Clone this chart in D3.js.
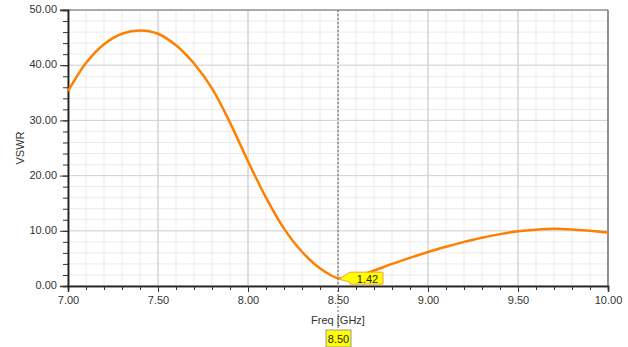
<!DOCTYPE html>
<html>
<head>
<meta charset="utf-8">
<script src="https://cdn.jsdelivr.net/npm/d3@7"></script>
<style>
  body { margin: 0; background: #fff; }
  text { font-family: "Liberation Sans", Arial, sans-serif; }
</style>
</head>
<body>
<div id="vis"></div>
<script>
// Frequency samples (GHz) and VSWR
var freq = [7.0, 7.1, 7.2, 7.3, 7.4, 7.5, 7.6, 7.7, 7.8, 7.9,
            8.0, 8.1, 8.2, 8.3, 8.4, 8.5, 8.6, 8.7, 8.8, 8.9,
            9.0, 9.1, 9.2, 9.3, 9.4, 9.5, 9.6, 9.7, 9.8, 9.9, 10.0];
var vswr = [35.3, 40.4, 43.8, 45.7, 46.3, 45.7, 43.6, 40.3, 35.8, 29.6,
            22.6, 16.0, 10.4, 6.2, 3.2, 1.42, 1.75, 2.8, 4.0, 5.1,
            6.15, 7.1, 8.0, 8.75, 9.4, 9.9, 10.2, 10.35, 10.25, 10.0, 9.7];
var xTicks = [7.0, 7.5, 8.0, 8.5, 9.0, 9.5, 10.0];
var yTicks = [0, 10, 20, 30, 40, 50];
var markerFreq = 8.5;
var markerValue = 1.42;

var width = 628, height = 347;
var margin = { top: 10, right: 20, bottom: 61, left: 68 };

var svg = d3.select('#vis').append('svg')
  .attr('width', width)
  .attr('height', height);

var x = d3.scaleLinear().domain([7, 10]).range([margin.left, width - margin.right]);
var y = d3.scaleLinear().domain([0, 50]).range([height - margin.bottom, margin.top]);

var x0 = x.range()[0], x1 = x.range()[1];
var y0 = y.range()[0], y1 = y.range()[1];

// minor grid
var minorX = d3.range(70, 101).map(function (d) { return d / 10; });
var minorY = d3.range(0, 51, 2);
svg.append('g').selectAll('line').data(minorX).join('line')
  .attr('x1', function (d) { return x(d); }).attr('x2', function (d) { return x(d); })
  .attr('y1', y1).attr('y2', y0)
  .attr('stroke', '#ebebeb').attr('stroke-width', 1);
svg.append('g').selectAll('line').data(minorY).join('line')
  .attr('y1', function (d) { return y(d); }).attr('y2', function (d) { return y(d); })
  .attr('x1', x0).attr('x2', x1)
  .attr('stroke', '#ebebeb').attr('stroke-width', 1);

// major grid
svg.append('g').selectAll('line').data(xTicks).join('line')
  .attr('x1', function (d) { return x(d); }).attr('x2', function (d) { return x(d); })
  .attr('y1', y1).attr('y2', y0)
  .attr('stroke', '#c8c8c8').attr('stroke-width', 1);
svg.append('g').selectAll('line').data(yTicks).join('line')
  .attr('y1', function (d) { return y(d); }).attr('y2', function (d) { return y(d); })
  .attr('x1', x0).attr('x2', x1)
  .attr('stroke', '#d4d4d4').attr('stroke-width', 1);

// top and right border
svg.append('line').attr('x1', x0 - 8).attr('x2', x1).attr('y1', y1).attr('y2', y1)
  .attr('stroke', '#999').attr('stroke-width', 1.5);
svg.append('line').attr('x1', x1).attr('x2', x1).attr('y1', y1).attr('y2', y0)
  .attr('stroke', '#777').attr('stroke-width', 1.5);

// axes
var xAxis = svg.append('g').attr('transform', 'translate(0,' + y0 + ')')
  .call(d3.axisBottom(x).tickValues(xTicks).tickFormat(d3.format('.2f')).tickSize(6).tickPadding(4));
var xMinor = svg.append('g').attr('transform', 'translate(0,' + y0 + ')')
  .call(d3.axisBottom(x).tickValues(minorX).tickFormat('').tickSize(4));
var yAxis = svg.append('g').attr('transform', 'translate(' + x0 + ',0)')
  .call(d3.axisLeft(y).tickValues(yTicks).tickFormat(d3.format('.2f')).tickSize(8).tickPadding(3));
var yMinor = svg.append('g').attr('transform', 'translate(' + x0 + ',0)')
  .call(d3.axisLeft(y).tickValues(minorY).tickFormat('').tickSize(5));

[xAxis, xMinor, yAxis, yMinor].forEach(function (g) {
  g.select('.domain').attr('stroke', '#222').attr('stroke-width', 1.5);
  g.selectAll('.tick line').attr('stroke', '#333');
  g.selectAll('.tick text').attr('fill', '#333').style('font-size', '11px')
    .style('font-family', '"Liberation Sans", Arial, sans-serif');
});
yAxis.selectAll('.tick text').attr('dy', '0.25em');

// axis titles
svg.append('text').attr('x', (x0 + x1) / 2).attr('y', 324)
  .attr('text-anchor', 'middle').attr('fill', '#333').style('font-size', '11px')
  .text('Freq [GHz]');
svg.append('text')
  .attr('transform', 'translate(24,' + ((y0 + y1) / 2) + ') rotate(-90)')
  .attr('text-anchor', 'middle').attr('fill', '#333').style('font-size', '11px')
  .text('VSWR');

// marker line
svg.append('line')
  .attr('x1', x(markerFreq)).attr('x2', x(markerFreq))
  .attr('y1', y1).attr('y2', 330)
  .attr('stroke', '#666').attr('stroke-width', 1).attr('stroke-dasharray', '2,2');

// curve
var line = d3.line()
  .x(function (d, i) { return x(freq[i]); })
  .y(function (d) { return y(d); })
  .curve(d3.curveCatmullRom.alpha(0.5));

svg.append('path').datum(vswr)
  .attr('d', line)
  .attr('fill', 'none')
  .attr('stroke', '#ff8000')
  .attr('stroke-width', 2.5);

// marker value label
var mx = x(markerFreq), my = y(markerValue);
var bx = mx + 12, by = my - 6, bw = 33, bh = 12;
svg.append('path')
  .attr('d', 'M' + (mx + 1) + ',' + (my + 1) + ' L' + bx + ',' + by + ' L' + (bx + bw) + ',' + by +
    ' L' + (bx + bw) + ',' + (by + bh) + ' L' + bx + ',' + (by + bh) + ' L' + (bx) + ',' + (my + 4) + ' Z')
  .attr('fill', '#ffff00').attr('stroke', '#f0a040').attr('stroke-width', 1);
svg.append('text').attr('x', bx + bw / 2 + 1).attr('y', by + bh - 1.5)
  .attr('text-anchor', 'middle').attr('fill', '#222').style('font-size', '11px')
  .text(markerValue.toFixed(2));

// marker frequency label
svg.append('rect').attr('x', mx - 12).attr('y', 330).attr('width', 25).attr('height', 17)
  .attr('fill', '#ffff00').attr('stroke', '#999').attr('stroke-width', 1);
svg.append('text').attr('x', mx + 0.5).attr('y', 343)
  .attr('text-anchor', 'middle').attr('fill', '#222').style('font-size', '11px')
  .text(markerFreq.toFixed(2));
</script>
</body>
</html>
